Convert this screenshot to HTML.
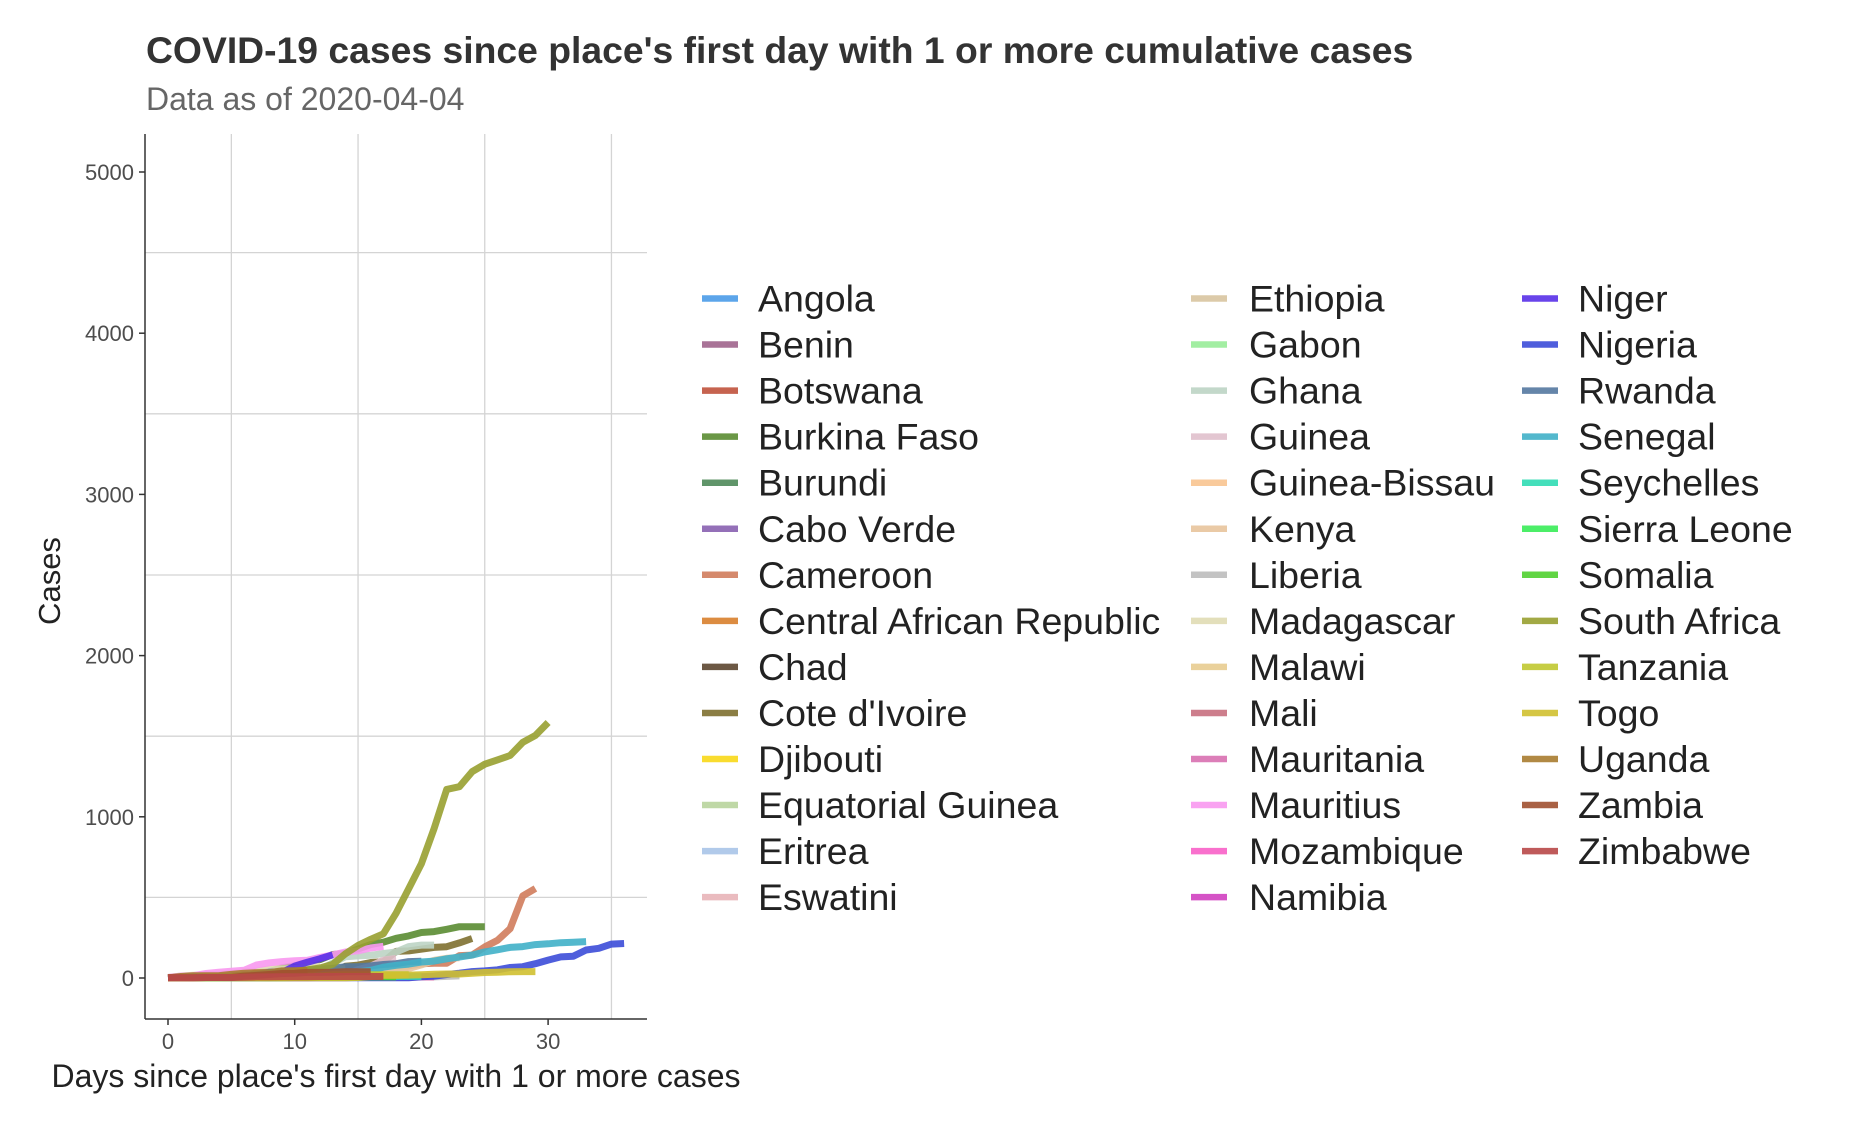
<!DOCTYPE html>
<html><head><meta charset="utf-8"><style>
body{margin:0;background:#fff;}
svg{display:block;font-family:"Liberation Sans",sans-serif;}
</style></head><body>
<svg id="chart" width="1850" height="1132" viewBox="0 0 1850 1132">
<text x="146" y="63" font-size="37.3" font-weight="bold" fill="#333">COVID-19 cases since place's first day with 1 or more cumulative cases</text>
<text x="146" y="110" font-size="32" fill="#666">Data as of 2020-04-04</text>
<g id="grid"></g>
<g id="lines"></g>
<g id="axes"></g>
<text x="60" y="581" font-size="31" fill="#222" text-anchor="middle" transform="rotate(-90 60 581)">Cases</text>
<text x="396" y="1087" font-size="32" fill="#222" text-anchor="middle">Days since place's first day with 1 or more cases</text>
<g id="legend"></g>
</svg>
<script>
const xTicks=[0,10,20,30];
const yTicks=[0,1000,2000,3000,4000,5000];
const xGrid=[5,15,25,35];
const yGrid=[500,1500,2500,3500,4500];
const names=["Angola","Benin","Botswana","Burkina Faso","Burundi","Cabo Verde","Cameroon","Central African Republic","Chad","Cote d'Ivoire","Djibouti","Equatorial Guinea","Eritrea","Eswatini","Ethiopia","Gabon","Ghana","Guinea","Guinea-Bissau","Kenya","Liberia","Madagascar","Malawi","Mali","Mauritania","Mauritius","Mozambique","Namibia","Niger","Nigeria","Rwanda","Senegal","Seychelles","Sierra Leone","Somalia","South Africa","Tanzania","Togo","Uganda","Zambia","Zimbabwe"];
const colors=["#4a9be8","#a0648c","#c0523c","#5a8c32","#4f8a5a","#8860b0","#d07c5c","#d8802c","#5c4630","#7e7030","#f8d818","#b8d49c","#a8c4e8","#e8b4b8","#d8c4a0","#98ec98","#bcd4c4","#e0c0cc","#f8c490","#e8c49c","#bcbcbc","#e0dcb4","#e8cc90","#c87080","#d870b0","#f898f0","#f860c8","#d040c0","#5830e8","#3c4cd8","#5478a0","#40b0c8","#30dcb4","#38ec58","#50d030","#98a030","#c0c830","#d0c030","#a87c30","#a05030","#b84848"];
const sAngola=[1,2,2,3,4,5,7,8,8,8];
const sBenin=[1,2,2,5,6,6,6,9,13,16];
const sBotswana=[3,3,4,4];
const sBurkina=[2,2,3,15,15,20,27,33,40,64,75,99,114,146,152,180,207,222,246,261,282,288,302,318,318,318];
const sBurundi=[2,2,3];
const sCaboVerde=[1,3,3,3,4,5,5,6,6,7,7,7,8,8,10,10];
const sCameroon=[1,1,1,2,2,2,2,2,2,2,2,2,4,10,13,27,40,56,66,75,88,91,91,139,142,193,233,306,509,555];
const sCAR=[1,1,1,3,3,3,3,3,3,3,3,5,6,6,8,9,9,9,9];
const sChad=[1,1,1,1,1,3,3,3,5,7,7,8];
const sCIV=[1,1,1,1,1,1,1,1,1,4,6,9,14,25,73,80,96,101,165,168,179,190,194,218,245];
const sDjibouti=[1,1,1,3,3,11,14,18,18,30,33,40,49,50,59];
const sEqGuinea=[1,1,4,4,6,6,9,12,12,12,13,14,15,15,15,15,15,15,16,16];
const sEritrea=[1,4,6,12,12,15,18,22,22,29];
const sEswatini=[1,1,1,1,1,4,4,4,9,9,9,9,9,9,9,9,9,9,9,10,12];
const sEthiopia=[1,1,1,1,5,5,5,6,9,11,12,12,16,21,23,25,26,29,35,38];
const sGabon=[1,1,1,3,4,4,5,6,7,7,7,7,7,16,18,18,18,21,21,21];
const sGhana=[2,2,6,6,7,11,16,19,21,23,24,27,53,93,132,137,141,152,161,195,204,204];
const sGuinea=[1,1,1,1,1,1,2,2,4,4,4,8,8,16,22,52,73,111,121];
const sGBissau=[2,2,2,2,8,9,9,15];
const sKenya=[1,1,1,3,3,3,3,3,7,7,15,16,16,25,28,31,38,42,50,59,81,110,122,126];
const sLiberia=[1,1,1,2,2,3,3,3,3,3,3,3,3,3,3,3,3,3,6,7,7,7,10,13];
const sMadagascar=[3,12,17,19,26,26,39,43,57,57,59,70,72];
const sMalawi=[3,4];
const sMali=[2,4,11,18,18,25,28,31,36,39,45];
const sMauritania=[1,1,1,1,1,1,1,1,1,2,2,2,2,2,2,5,5,5,5,5,6,6];
const sMauritius=[3,12,14,28,36,42,48,81,94,102,107,110,128,143,161,169,186,196];
const sMozambique=[1,1,1,3,5,7,7,8,8,8,10,10,10,10];
const sNamibia=[2,2,2,2,3,3,3,3,4,7,8,11,11,11,14,14,14];
const sNiger=[1,1,2,3,7,10,18,20,27,34,74,98,120,144];
const sNigeria=[1,1,1,1,1,1,1,1,1,1,1,1,1,1,1,1,1,2,2,2,8,12,22,30,40,44,51,65,70,89,111,131,135,174,184,210,214];
const sRwanda=[1,5,7,8,8,11,17,19,36,40,41,50,54,60,70,70,75,84,89,102,104];
const sSenegal=[1,2,4,4,4,4,4,4,4,4,10,10,24,27,31,38,47,67,79,86,99,105,119,130,142,162,175,190,195,207,212,219,222,226];
const sSeychelles=[2,3,4,4,6,7,7,7,8,8,10,10,10,10,10,10,10,10,10,10,10];
const sSierraLeone=[1,1,1,2,2,4];
const sSomalia=[1,1,1,1,1,1,1,1,1,2,3,3,5,5,5,7,7,7,7];
const sSouthAfrica=[1,1,1,3,3,7,13,13,17,24,38,51,62,85,150,202,240,274,402,554,709,927,1170,1187,1280,1326,1353,1380,1462,1505,1585];
const sTanzania=[1,1,3,6,6,6,12,12,12,12,13,13,14,19,19,19,20,20,20,20];
const sTogo=[1,1,1,1,1,1,1,1,1,1,1,1,1,1,1,3,9,16,16,18,20,23,25,25,30,34,36,39,40,40];
const sUganda=[1,9,14,14,14,23,30,33,33,44,45,48];
const sZambia=[2,2,2,3,3,3,12,16,22,28,29,35,35,36,39,39,39];
const sZimbabwe=[1,1,2,3,3,3,5,7,7,8,8,8,9,9,9,9,9,9];
const seriesList=[sAngola,sBenin,sBotswana,sBurkina,sBurundi,sCaboVerde,sCameroon,sCAR,sChad,sCIV,sDjibouti,sEqGuinea,sEritrea,sEswatini,sEthiopia,sGabon,sGhana,sGuinea,sGBissau,sKenya,sLiberia,sMadagascar,sMalawi,sMali,sMauritania,sMauritius,sMozambique,sNamibia,sNiger,sNigeria,sRwanda,sSenegal,sSeychelles,sSierraLeone,sSomalia,sSouthAfrica,sTanzania,sTogo,sUganda,sZambia,sZimbabwe];

const NS="http://www.w3.org/2000/svg";
const L=145,R=647,T=134,B=1019;
function xs(d){return 168+d*12.67;}
function ys(v){return 978-v*0.1612;}
function mk(tag,attrs,parent){const e=document.createElementNS(NS,tag);for(const k in attrs)e.setAttribute(k,attrs[k]);parent.appendChild(e);return e;}
const grid=document.getElementById('grid'),lines=document.getElementById('lines'),axes=document.getElementById('axes'),legend=document.getElementById('legend');
xGrid.forEach(d=>{const e=mk('line',{x1:xs(d),x2:xs(d),y1:T,y2:B,stroke:'#d4d4d4','stroke-width':1.3},grid);

});
yGrid.forEach(v=>{const e=mk('line',{x1:L,x2:R,y1:ys(v),y2:ys(v),stroke:'#d4d4d4','stroke-width':1.3},grid);

});
seriesList.forEach((s,i)=>{
 const pts=s.map((v,d)=>xs(d).toFixed(1)+','+ys(v).toFixed(1)).join(' ');
 const e=mk('polyline',{points:pts,fill:'none',stroke:colors[i],'stroke-width':7,'stroke-opacity':0.9,'stroke-linejoin':'round'},lines);
 
 
});
mk('line',{x1:L,x2:L,y1:T,y2:B,stroke:'#333','stroke-width':1.5},axes);
mk('line',{x1:L,x2:R,y1:B,y2:B,stroke:'#333','stroke-width':1.5},axes);
xTicks.forEach(d=>{mk('line',{x1:xs(d),x2:xs(d),y1:B,y2:B+6,stroke:'#333','stroke-width':1.5},axes);
 const t=mk('text',{x:xs(d),y:B+30,'font-size':22,fill:'#4d4d4d','text-anchor':'middle'},axes);t.textContent=d;
 
 });
yTicks.forEach(v=>{mk('line',{x1:L-6,x2:L,y1:ys(v),y2:ys(v),stroke:'#333','stroke-width':1.5},axes);
 const t=mk('text',{x:L-11,y:ys(v)+8,'font-size':22,fill:'#4d4d4d','text-anchor':'end'},axes);t.textContent=v;
 
 });
const colKeyX=[702,1191,1522],colTxtX=[758,1249,1578];
names.forEach((n,i)=>{
 const c=Math.floor(i/14),r=i%14,y=298.5+r*46.05;
 const g=mk('g',{},legend);
 
 
 mk('line',{x1:colKeyX[c],x2:colKeyX[c]+36,y1:y,y2:y,stroke:colors[i],'stroke-width':6.5,'stroke-opacity':0.9},g);
 const t=mk('text',{x:colTxtX[c],y:y+13,'font-size':37.5,fill:'#222'},g);t.textContent=n;
});
</script>
</body></html>
